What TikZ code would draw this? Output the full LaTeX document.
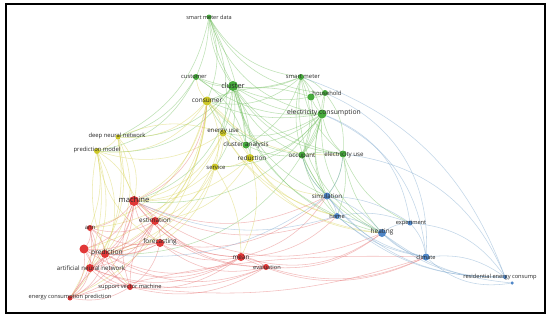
\documentclass[tikz,border=0pt]{standalone}
\usepackage{fontspec}
\setmainfont{Open Sans}
\pgfdeclarelayer{bgfill}
\pgfdeclarelayer{bg}
\pgfsetlayers{bgfill,bg,main}
\definecolor{gN}{RGB}{70,170,60}
\definecolor{yN}{RGB}{205,200,40}
\definecolor{rN}{RGB}{225,55,55}
\definecolor{bN}{RGB}{80,135,200}
\definecolor{gE}{RGB}{110,190,90}
\definecolor{yE}{RGB}{215,210,80}
\definecolor{rE}{RGB}{230,110,110}
\definecolor{bE}{RGB}{120,165,205}
\definecolor{txt}{RGB}{40,40,40}
\tikzset{
  vn/.style={circle,inner sep=0pt,minimum size=#1},
  gn/.style={vn=#1,fill=gN},
  yn/.style={vn=#1,fill=yN},
  rn/.style={vn=#1,fill=rN},
  bn/.style={vn=#1,fill=bN},
  lbl/.style={text=txt,inner sep=0pt,font=\fontsize{#1}{#1}\selectfont},
  edge/.style={line width=0.55bp,draw opacity=0.45,draw=#1},
}
\begin{document}
\begin{tikzpicture}[x=1bp,y=-1bp]
\useasboundingbox (0,0) rectangle (550,319);
\begin{pgfonlayer}{bgfill}
\fill[white] (0,0) rectangle (550,319);
\end{pgfonlayer}
% nodes
\node[gn=5bp] (smd) at (209,17) {};
\node[gn=6bp] (cust) at (196,77) {};
\node[gn=10bp] (clus) at (233,86) {};
\node[yn=9bp] (cons) at (207,101) {};
\node[gn=6bp] (sm) at (301,77) {};
\node[gn=6bp] (hh) at (325,93) {};
\node[gn=7bp] (hh2) at (311,97) {};
\node[gn=9bp] (ec) at (322,114) {};
\node[gn=7bp] (occ) at (302,155) {};
\node[gn=7bp] (eu) at (343,154) {};
\node[yn=5bp] (dnn) at (118,137) {};
\node[yn=6bp] (pm) at (97,151) {};
\node[yn=7bp] (enu) at (223,133) {};
\node[gn=7bp] (ca) at (246,145) {};
\node[yn=8bp] (redu) at (250,158) {};
\node[yn=7bp] (serv) at (215,167) {};
\node[rn=10bp] (mach) at (134,201) {};
\node[rn=8bp] (est) at (155,221) {};
\node[rn=6bp] (ann) at (90,228) {};
\node[rn=8bp] (fore) at (160,243) {};
\node[rn=8bp] (pred) at (105,254) {};
\node[rn=9bp] (pred2) at (84,249) {};
\node[rn=8bp] (anntw) at (90,268) {};
\node[rn=6bp] (svm) at (130,287) {};
\node[rn=5bp] (ecp) at (70,298) {};
\node[rn=8bp] (mean) at (241,257) {};
\node[rn=6bp] (eval) at (266,267) {};
\node[bn=7bp] (sim) at (327,196) {};
\node[bn=6bp] (home) at (337,216) {};
\node[bn=8bp] (heat) at (382,233) {};
\node[bn=5bp] (exp) at (410,223) {};
\node[bn=7bp] (clim) at (426,257) {};
\node[bn=4bp] (rec) at (505,277) {};
\node[bn=3.5bp] (rec2) at (512,283) {};
% labels
\node[lbl=5.6] (l-smd) at (209,17) {smart meter data};
\node[lbl=5.8] (l-cust) at (194,77) {customer};
\node[lbl=7.5] (l-clus) at (233,86) {cluster};
\node[lbl=6.5] (l-cons) at (207,101) {consumer};
\node[lbl=5.9] (l-sm) at (303,77) {smart meter};
\node[lbl=5.9] (l-hh) at (327,93) {household};
\node[lbl=6.8] (l-ec) at (324,113) {electricity consumption};
\node[lbl=6.2] (l-occ) at (302,156) {occupant};
\node[lbl=6.2] (l-eu) at (344,155) {electricity use};
\node[lbl=5.9] (l-dnn) at (117,136) {deep neural network};
\node[lbl=5.9] (l-pm) at (97,150) {prediction model};
\node[lbl=6.2] (l-enu) at (223,132) {energy use};
\node[lbl=6.4] (l-ca) at (246,145) {cluster analysis};
\node[lbl=6.4] (l-redu) at (252,158) {reduction};
\node[lbl=5.9] (l-serv) at (216,167) {service};
\node[lbl=7.7] (l-mach) at (134,200) {machine};
\node[lbl=6.4] (l-est) at (155,220) {estimation};
\node[lbl=5.9] (l-ann) at (90,228) {ann};
\node[lbl=6.5] (l-fore) at (160,242) {forecasting};
\node[lbl=6.7] (l-pred) at (107,253) {prediction};
\node[lbl=6.2] (l-anntw) at (91,268) {artificial neural network};
\node[lbl=5.7] (l-svm) at (130,287) {support vector machine};
\node[lbl=5.7] (l-ecp) at (70,297) {energy consumption prediction};
\node[lbl=6.4] (l-mean) at (241,258) {mean};
\node[lbl=5.7] (l-eval) at (267,267) {evaluation};
\node[lbl=6.2] (l-sim) at (327,196) {simulation};
\node[lbl=5.7] (l-home) at (337,216) {home};
\node[lbl=6.5] (l-heat) at (382,232) {heating};
\node[lbl=5.7] (l-exp) at (411,223) {experiment};
\node[lbl=5.7] (l-clim) at (426,257) {climate};
\node[lbl=5.7] (l-rec) at (500,277) {residential energy consump};
% edges
\begin{pgfonlayer}{bg}
\foreach \a/\b/\k in {smd/cust/10,smd/clus/-15,smd/cons/20,smd/sm/-25,smd/ec/-30,smd/hh/-28,smd/enu/15,smd/eu/-35,smd/ca/10,smd/dnn/25,
 clus/cust/15,clus/cons/20,clus/sm/-15,clus/hh/-20,clus/ec/-15,clus/occ/-20,clus/eu/-25,clus/ca/10,clus/redu/15,clus/serv/20,clus/enu/10,clus/dnn/25,clus/pm/30,clus/mach/30,clus/sim/-25,clus/home/-25,clus/heat/-30,
 sm/hh/15,sm/hh2/10,sm/ec/15,sm/occ/20,sm/eu/-20,sm/cust/20,sm/cons/25,sm/sim/-25,sm/heat/-35,sm/ca/20,
 ec/hh/10,ec/hh2/10,ec/occ/15,ec/eu/-15,ec/ca/15,ec/redu/20,ec/enu/20,ec/serv/25,ec/mach/30,ec/pred/35,ec/sim/-20,ec/home/-25,ec/heat/-30,ec/cust/20,ec/cons/15,
 occ/eu/10,occ/sim/-15,occ/home/-15,occ/heat/-20,occ/ca/15,occ/cons/20,occ/hh/-15,
 eu/home/15,eu/heat/-15,eu/sim/15,eu/exp/-20,eu/hh/-20,
 ca/redu/20,ca/cons/15,ca/cust/-20,hh/hh2/20,hh2/occ/15,hh2/cons/-20,cust/pm/25,cust/dnn/20}
  \draw[edge=gE] (\a) to[bend left=\k] (\b);
\foreach \a/\b/\k in {cons/cust/15,cons/enu/15,cons/serv/20,cons/redu/15,cons/dnn/25,cons/pm/30,cons/mach/25,cons/pred/30,cons/ann/30,cons/eu/-25,cons/est/20,cons/ecp/30,cons/pred2/35,
 enu/serv/15,enu/redu/15,enu/mach/25,enu/pm/25,enu/heat/-25,enu/home/-20,enu/dnn/-20,enu/pred/30,enu/ann/30,
 redu/serv/15,redu/mach/20,redu/est/25,redu/sim/-20,redu/heat/-25,redu/home/-20,redu/mean/20,
 serv/mach/20,serv/est/20,serv/pred/30,serv/mean/15,serv/fore/20,
 dnn/pm/15,dnn/mach/25,dnn/pred/30,dnn/ecp/25,dnn/anntw/25,dnn/est/-20,
 pm/mach/20,pm/pred/25,pm/anntw/20,pm/ann/15,pm/ecp/20,pm/fore/-25,pm/svm/-25}
  \draw[edge=yE] (\a) to[bend left=\k] (\b);
\foreach \a/\b/\k in {mach/est/15,mach/ann/20,mach/pred/20,mach/pred2/25,mach/anntw/25,mach/fore/-20,mach/svm/-20,mach/ecp/30,mach/mean/-25,mach/eval/-25,mach/sim/-25,mach/heat/-30,mach/home/-25,mach/cons/-30,
 est/pred/20,est/pred2/25,est/fore/15,est/anntw/25,est/svm/-20,est/mean/-20,est/ann/20,est/ecp/25,est/eval/-20,
 ann/pred2/20,ann/pred/20,ann/anntw/25,ann/ecp/25,ann/fore/-20,ann/svm/-25,
 pred/pred2/20,pred/anntw/20,pred/svm/-20,pred/ecp/25,pred/fore/-15,pred/mean/-25,pred/eval/-25,
 pred2/anntw/20,pred2/ecp/20,pred2/svm/-25,pred2/fore/-20,pred2/mean/-30,
 fore/svm/20,fore/anntw/-20,fore/mean/-20,fore/eval/-25,fore/ecp/-25,fore/sim/-25,
 anntw/svm/-20,anntw/ecp/20,anntw/mean/-25,anntw/eval/-22,
 svm/mean/-20,svm/ecp/20,svm/eval/-22,svm/clim/-12,
 mean/eval/15,mean/sim/-20,mean/heat/-25,mean/clim/-25,mean/home/-20,
 eval/heat/-20,eval/clim/-20,ecp/clim/8}
  \draw[edge=rE] (\a) to[bend left=\k] (\b);
\foreach \a/\b/\k in {sim/home/15,sim/heat/15,sim/exp/15,sim/clim/-20,sim/rec/-25,sim/occ/15,sim/eu/-15,
 home/heat/10,home/exp/15,home/clim/-15,home/rec/-20,
 heat/exp/15,heat/clim/-15,heat/rec/-20,
 exp/clim/15,exp/rec/25,clim/rec/20,clim/rec2/-25,
 eu/rec/30,sm/rec/25,ec/exp/30,ec/clim/30,hh/clim/35,heat/rec2/-15,home/mach/20,sim/pred/20}
  \draw[edge=bE] (\a) to[bend left=\k] (\b);
\end{pgfonlayer}
\draw[line width=1.5bp] (6,4) rectangle (545,313);
\end{tikzpicture}
\end{document}
